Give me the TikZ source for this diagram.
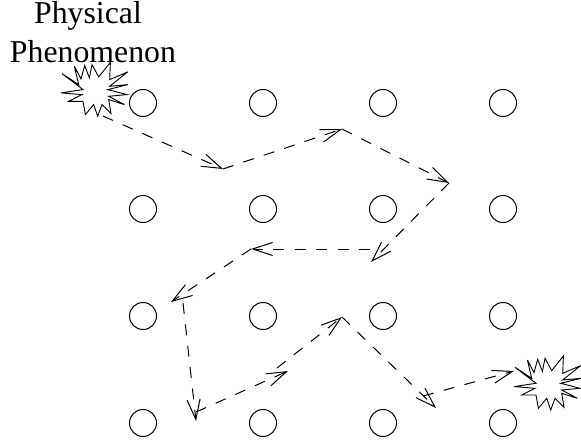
\documentclass[tikz,border=0pt]{standalone}
\usepackage{fontspec}
\setmainfont{Liberation Serif}
\usetikzlibrary{arrows.meta}
\tikzset{
  sensor/.style={circle,draw=black,line width=1pt,minimum size=27pt,inner sep=0pt,outer sep=0pt},
  hop/.style={draw=black,line width=1pt,dash pattern=on 11pt off 10.5pt,
    -{Straight Barb[length=20pt,width=13pt,line width=1pt]}},
  burst/.style={draw=black,fill=white,line width=0.9pt,miter limit=6,line join=miter},
  label/.style={font=\fontsize{31.8pt}{40pt}\selectfont,inner sep=0pt,anchor=base}
}
\newcommand{\burstshape}{(-32.7,3.3) -- (-10.7,0) -- (-31.7,-16) -- (-15,-5) -- (-19.3,-23.3) -- (-12.7,-10.7) -- (-9,-24) -- (-4.3,-11.7) -- (-1.7,-25) -- (5,-12.7) -- (16.7,-27.3) -- (16,-10) -- (34,-17.7) -- (16,-3.3) -- (34.3,-5) -- (14,0) -- (33.3,5) -- (15,6.7) -- (30.7,15) -- (15,10) -- (17.3,24) -- (8.3,15) -- (4,26.7) -- (0,15) -- (-8.3,25) -- (-10.7,11.7) -- (-25,11.7) -- (-11.7,5) -- cycle}
\begin{document}
\begin{tikzpicture}[x=1pt,y=-1pt]
\useasboundingbox (0,0) rectangle (581,444);
\node[label] (t1) at (88,24) {Physical};
\node[label] (t2) at (93,63) {Phenomenon};
\foreach \r/\yy in {1/103,2/209,3/316,4/423}
  \foreach \c/\xx in {1/143,2/263,3/383,4/503}
    \node[sensor] (s\r\c) at (\xx,\yy) {};
\begin{scope}[shift={(93.7,89.6)}]
\draw[burst] \burstshape;
\end{scope}
\begin{scope}[shift={(546.7,383.3)}]
\draw[burst] \burstshape;
\end{scope}
\coordinate (a0) at (103,116);
\coordinate (a1) at (223,169);
\coordinate (a2) at (342,129);
\coordinate (a3) at (449,183);
\coordinate (a4) at (371,262);
\coordinate (b0) at (370,249);
\coordinate (b1) at (251,249);
\coordinate (b2) at (171,302);
\coordinate (c0) at (183,303);
\coordinate (c1) at (196,421);
\coordinate (d0) at (196,412);
\coordinate (d1) at (288,371);
\coordinate (e0) at (277,368);
\coordinate (e1) at (342,317);
\coordinate (e2) at (436,408);
\coordinate (f0) at (423,396);
\coordinate (f1) at (514,371);
\draw[hop] (a0) -- (a1);
\draw[hop] (a1) -- (a2);
\draw[hop] (a2) -- (a3);
\draw[hop] (a3) -- (a4);
\draw[hop] (b0) -- (b1);
\draw[hop] (b1) -- (b2);
\draw[hop] (c0) -- (c1);
\draw[hop] (d0) -- (d1);
\draw[hop] (e0) -- (e1);
\draw[hop] (e1) -- (e2);
\draw[hop] (f0) -- (f1);
\end{tikzpicture}
\end{document}
